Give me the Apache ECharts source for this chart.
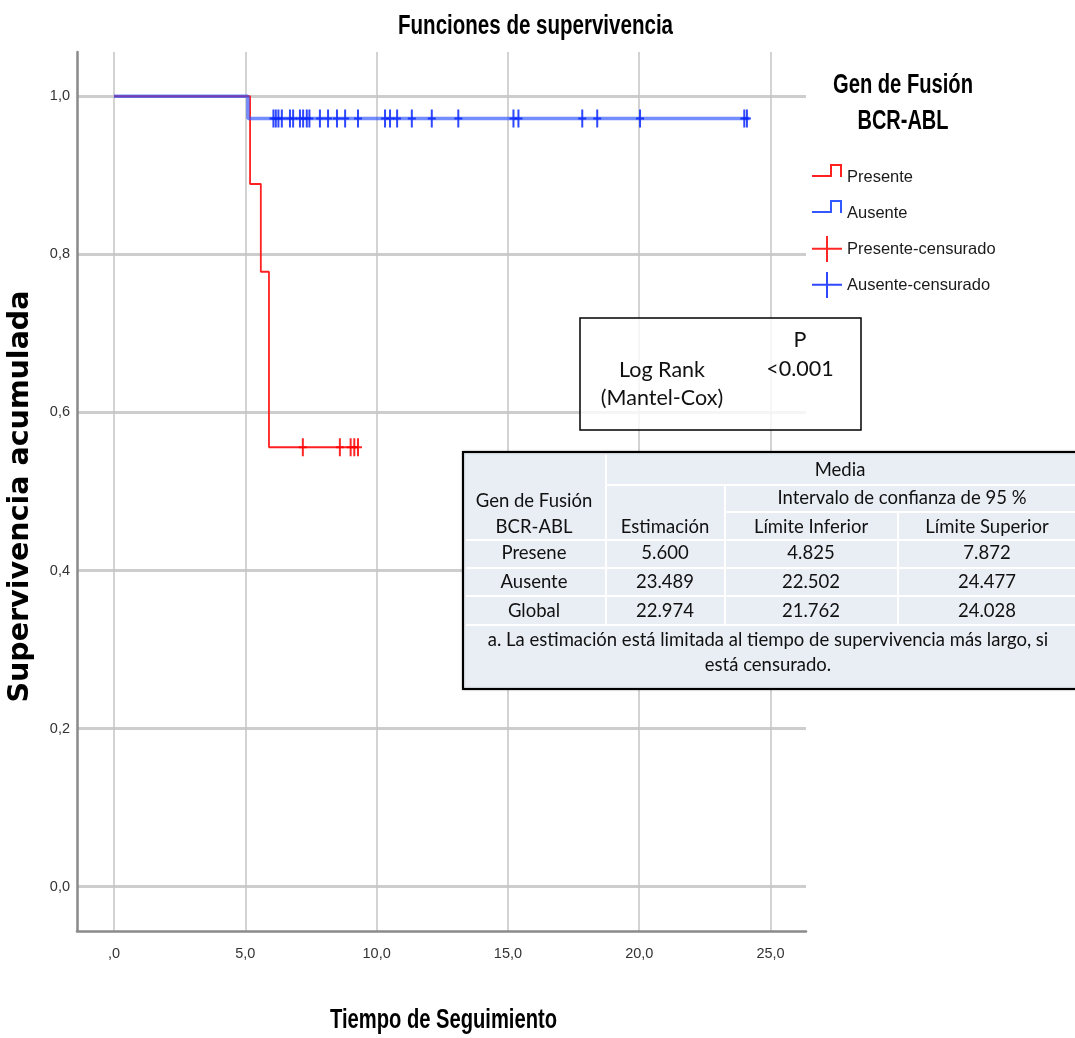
<!DOCTYPE html>
<html lang="es">
<head>
<meta charset="UTF-8">
<title>Funciones de supervivencia</title>
<style>html,body{margin:0;padding:0;background:#fff}</style>
</head>
<body>
<div id="chart-box" style="width:1075px;height:1038px"></div>
<script src="https://cdn.jsdelivr.net/npm/echarts@6/dist/echarts.min.js"></script>
<script>
// curvas de Kaplan-Meier (tiempo, supervivencia)
var presenteTime = [0, 5.18, 5.59, 5.9, 9.3];
var presenteSurv = [1, 0.889, 0.778, 0.556, 0.556];
var ausenteTime = [0, 5.1, 24.2];
var ausenteSurv = [1, 0.972, 0.972];
// tiempos censurados
var presenteCens = [7.19, 8.6, 9.01, 9.15, 9.29];
var ausenteCens = [6.07, 6.16, 6.26, 6.39, 6.70, 6.82, 7.08, 7.20, 7.34, 7.44, 7.84, 8.15, 8.49, 8.80, 9.29,
    10.32, 10.51, 10.78, 11.34, 12.10, 13.11, 15.21, 15.40, 17.83, 18.40, 20.03, 24.0, 24.1];
var xTicks = [0, 5, 10, 15, 20, 25];
var yTicks = [0, 0.2, 0.4, 0.6, 0.8, 1];
// tablas
var logRankP = '<0.001';
var tableHeads = ['Estimación', 'Límite Inferior', 'Límite Superior'];
var tableGroups = ['Presene', 'Ausente', 'Global'];
var tableEstim = ['5.600', '23.489', '22.974'];
var tableInf = ['4.825', '22.502', '21.762'];
var tableSup = ['7.872', '24.477', '24.028'];

var ARIAL = "'Liberation Sans', Arial, sans-serif";
var CALIBRI = "Lato, 'Open Sans', sans-serif";

function zip(xs, ys) { return xs.map(function (x, i) { return [x, ys[i]]; }); }
function survAt(times, surv, t) {
    var v = surv[0];
    for (var i = 0; i < times.length; i++) { if (times[i] <= t) v = surv[i]; }
    return v;
}
function censPoints(cens, times, surv) {
    return cens.map(function (t) { return [t, survAt(times, surv, t)]; });
}
function fmt(v) { return v.toFixed(1).replace('.', ','); }

// texto estrecho (tipo Arial Narrow): se comprime horizontalmente hasta el ancho deseado
var measureCtx = document.createElement('canvas').getContext('2d');
function narrowText(s, cx, cy, size, width) {
    measureCtx.font = 'bold ' + size + 'px ' + ARIAL;
    var w = measureCtx.measureText(s).width;
    return {
        type: 'text', z: 101, x: cx, y: cy, scaleX: width / w,
        style: { text: s, x: 0, y: 0, fontFamily: ARIAL, fontSize: size, fontWeight: 'bold',
                 fill: '#000', align: 'center', verticalAlign: 'middle' }
    };
}

var plusMark = 'path://M3,0H5V18H3Z M0,8H8V10H0Z';
var stepIcon = 'path://M0,11H20V13H0Z M18,0H20V13H18Z M18,0H30V2H18Z M28,0H30V13H28Z M0,25.99H0.01V26H0Z';
var plusIcon = 'path://M0,11.8H30V13.8H0Z M14,0H16V26H14Z';

// tabla de medias (graphic)
var colX = [463, 606, 725, 898, 1090];
var rowY = [452, 485, 512, 540, 568, 596, 625, 689];
var tcText = { fontFamily: CALIBRI, fontSize: 18.5, fill: '#111', align: 'center', verticalAlign: 'middle' };
function txt(s, x, y, extra) {
    var st = Object.assign({ text: s, x: x, y: y }, tcText, extra || {});
    return { type: 'text', z: 101, style: st };
}
function wline(x1, y1, x2, y2) {
    return { type: 'line', z: 100, shape: { x1: x1, y1: y1, x2: x2, y2: y2 }, style: { stroke: '#ffffff', lineWidth: 2 } };
}
var graphics = [
    narrowText('Funciones de supervivencia', 535.5, 26, 28, 275),
    narrowText('Gen de Fusión', 903, 86, 27, 140),
    narrowText('BCR-ABL', 903, 122, 27, 91),
    narrowText('Tiempo de Seguimiento', 443.5, 1021, 27, 227),
    { type: 'rect', z: 99, shape: { x: 580, y: 318, width: 281, height: 112 },
      style: { fill: 'rgba(255,255,255,0.8)', stroke: '#000', lineWidth: 1.5 } },
    txt('P', 800, 340, { fontSize: 21.5 }),
    txt('Log Rank', 662, 370, { fontSize: 21.5 }),
    txt(logRankP, 800, 369, { fontSize: 21.5 }),
    txt('(Mantel-Cox)', 662, 398, { fontSize: 21.5 }),
    { type: 'rect', z: 99, shape: { x: colX[0], y: rowY[0], width: colX[4] - colX[0], height: rowY[7] - rowY[0] },
      style: { fill: '#e9edf4', stroke: '#000', lineWidth: 2, shadowBlur: 2, shadowColor: 'rgba(0,0,0,0.4)' } },
    wline(colX[1], rowY[0] + 3, colX[1], rowY[6]),
    wline(colX[2], rowY[1], colX[2], rowY[6]),
    wline(colX[3], rowY[2], colX[3], rowY[6]),
    wline(colX[1], rowY[1], colX[4], rowY[1]),
    wline(colX[2], rowY[2], colX[4], rowY[2]),
    wline(colX[0] + 3, rowY[3], colX[4], rowY[3]),
    wline(colX[0] + 3, rowY[4], colX[4], rowY[4]),
    wline(colX[0] + 3, rowY[5], colX[4], rowY[5]),
    wline(colX[0] + 3, rowY[6], colX[4], rowY[6]),
    txt('Media', 840, 470),
    txt('Intervalo de confianza de 95 %', 902, 498),
    txt('Gen de Fusión', 534, 501),
    txt('BCR-ABL', 534, 527),
    txt(tableHeads[0], 665, 527),
    txt(tableHeads[1], 811, 527),
    txt(tableHeads[2], 987, 527),
    txt('a. La estimación está limitada al tiempo de supervivencia más largo, si', 768, 640),
    txt('está censurado.', 768, 665)
];
var rowCenters = [553, 582, 611];
tableGroups.forEach(function (g, i) {
    graphics.push(txt(g, 534, rowCenters[i]));
    graphics.push(txt(tableEstim[i], 665, rowCenters[i]));
    graphics.push(txt(tableInf[i], 811, rowCenters[i]));
    graphics.push(txt(tableSup[i], 987, rowCenters[i]));
});

var option = {
    animation: false,
    backgroundColor: '#fff',
    legend: {
        orient: 'vertical',
        left: 812,
        top: 164,
        padding: 0,
        itemWidth: 30,
        itemHeight: 26,
        itemGap: 10,
        textStyle: { fontFamily: ARIAL, fontSize: 16.5, color: '#1a1a1a', padding: [2, 0, 0, 0] },
        data: [
            { name: 'Presente', icon: stepIcon },
            { name: 'Ausente', icon: stepIcon },
            { name: 'Presente-censurado', icon: plusIcon },
            { name: 'Ausente-censurado', icon: plusIcon }
        ]
    },
    grid: { left: 77, right: 269, top: 52, bottom: 107, outerBoundsMode: 'none' },
    xAxis: {
        type: 'value',
        min: -1.41,
        max: 26.35,
        axisLine: { show: true, onZero: false, lineStyle: { color: '#8a8a8a', width: 2.5 } },
        axisTick: { show: false, customValues: xTicks },
        axisLabel: {
            customValues: xTicks,
            margin: 15,
            fontFamily: ARIAL, fontSize: 14.5, color: '#333',
            formatter: function (v) { return v === 0 ? ',0' : fmt(v); }
        },
        splitLine: { show: true, lineStyle: { color: '#c4c4c4', width: 1.5 } }
    },
    yAxis: {
        type: 'value',
        min: -0.056,
        max: 1.056,
        name: 'Supervivencia acumulada',
        nameLocation: 'middle',
        nameGap: 42,
        nameTextStyle: { fontFamily: "'DejaVu Sans', sans-serif", fontSize: 28.5, fontWeight: 'bold', color: '#000', padding: [0, 10, 0, 0] },
        axisLine: { show: true, onZero: false, lineStyle: { color: '#8a8a8a', width: 2.5 } },
        axisTick: { show: false, customValues: yTicks },
        axisLabel: {
            customValues: yTicks,
            margin: 7,
            fontFamily: ARIAL, fontSize: 14.5, color: '#333',
            formatter: function (v) { return fmt(v); }
        },
        splitLine: { show: true, lineStyle: { color: '#cdcdcd', width: 3 } }
    },
    series: [
        {
            name: 'Presente', type: 'line', step: 'end', showSymbol: false, symbol: 'none',
            data: zip(presenteTime, presenteSurv),
            color: '#ff2020',
            itemStyle: { color: '#ff2020' },
            lineStyle: { color: '#ff2020', width: 1.8 },
            z: 3
        },
        {
            name: 'Ausente', type: 'line', step: 'end', showSymbol: false, symbol: 'none',
            data: zip(ausenteTime, ausenteSurv),
            color: '#3358ff',
            itemStyle: { color: '#3358ff' },
            lineStyle: { color: 'rgba(40,80,255,0.65)', width: 3.5 },
            z: 4
        },
        {
            name: 'Presente-censurado', type: 'scatter',
            data: censPoints(presenteCens, presenteTime, presenteSurv),
            symbol: plusMark, symbolSize: [8, 18],
            itemStyle: { color: '#ff0000', opacity: 0.85 },
            z: 5
        },
        {
            name: 'Ausente-censurado', type: 'scatter',
            data: censPoints(ausenteCens, ausenteTime, ausenteSurv),
            symbol: plusMark, symbolSize: [8, 18],
            itemStyle: { color: '#0a28ff', opacity: 0.85 },
            z: 5
        }
    ],
    graphic: graphics
};

var chart = echarts.init(document.getElementById('chart-box'));
chart.setOption(option);
</script>
</body>
</html>
